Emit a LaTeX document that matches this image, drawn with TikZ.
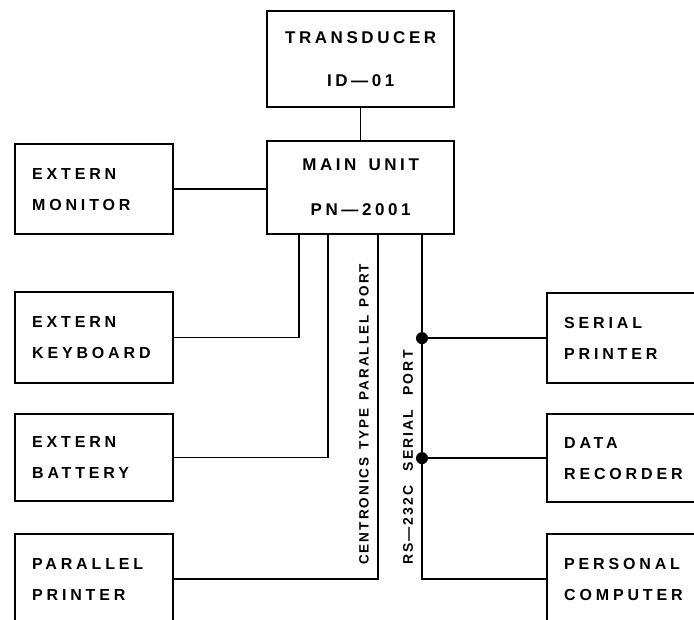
\documentclass[tikz,border=0pt]{standalone}
\usepackage{fontspec}
\setmainfont{Liberation Sans}
\newfontfamily\topfont{Liberation Sans}[LetterSpace=21]
\newfontfamily\boxfont{Liberation Sans}[LetterSpace=24]
\newfontfamily\labfont{Liberation Sans}[LetterSpace=15]
\begin{document}
\begin{tikzpicture}[x=1pt,y=-1pt,
  box/.style={draw, line width=2.3pt, anchor=north west, inner xsep=0pt, inner ysep=0pt,
    font=\boxfont\bfseries\fontsize{16}{31}\selectfont},
  lbox/.style={box, minimum width=158pt, text width=124pt, align=left},
  rbox/.style={box, minimum width=160pt, text width=126pt, align=left},
  cbox/.style={box, minimum width=187pt, text width=187pt, align=center},
  wire/.style={line width=1.6pt},
  lab/.style={rotate=90, anchor=west, inner sep=0pt, font=\labfont\bfseries\fontsize{14}{16}\selectfont},
  junction/.style={circle, fill, inner sep=0pt, minimum size=12pt}]
\useasboundingbox (0,0) rectangle (694,619);
\node[cbox, minimum height=96pt, font=\topfont\bfseries\fontsize{17}{43}\selectfont] (trans) at (266,10) {TRANSDUCER\\ID—01};
\node[cbox, minimum height=93pt, font=\topfont\bfseries\fontsize{17}{45}\selectfont] (main) at (266,140) {MAIN\hspace{12pt}UNIT\\PN—2001};
\node[lbox, minimum height=90pt] (monitor) at (14,143) {EXTERN\\MONITOR};
\node[lbox, minimum height=91pt] (keyboard) at (14,291) {EXTERN\\KEYBOARD};
\node[lbox, minimum height=87pt] (battery) at (14,413) {EXTERN\\BATTERY};
\node[lbox, minimum height=90pt] (pprinter) at (14,533) {PARALLEL\\PRINTER};
\node[rbox, minimum height=90pt] (sprinter) at (546,292) {SERIAL\\PRINTER};
\node[rbox, minimum height=88pt] (recorder) at (546,413) {DATA\\RECORDER};
\node[rbox, minimum height=90pt] (pc) at (546,533) {PERSONAL\\COMPUTER};
\coordinate (pk) at ([xshift=33pt]main.south west);
\coordinate (pb) at ([xshift=62pt]main.south west);
\coordinate (pp) at ([xshift=112pt]main.south west);
\coordinate (ps) at ([xshift=156pt]main.south west);
\draw[wire] (trans.south) -- (main.north);
\draw[wire] (monitor.east) -- (monitor.east -| main.west);
\draw[wire] (keyboard.east) -| (pk);
\draw[wire] (battery.east) -| (pb);
\draw[wire] (pprinter.east) -| (pp);
\draw[wire] (ps) |- (pc.west);
\node[junction] (d1) at (ps |- sprinter.west) {};
\node[junction] (d2) at (ps |- recorder.west) {};
\draw[wire] (d1) -- (sprinter.west);
\draw[wire] (d2) -- (recorder.west);
\node[lab, font=\labfont\bfseries\fontsize{13.5}{16}\selectfont] (centr) at (364,565) {CENTRONICS\hspace{2pt} TYPE\hspace{2pt} PARALLEL\hspace{2pt} PORT};
\node[lab] (rs) at (408,565) {RS—232C\hspace{14pt}SERIAL\hspace{14pt}PORT};
\end{tikzpicture}
\end{document}
